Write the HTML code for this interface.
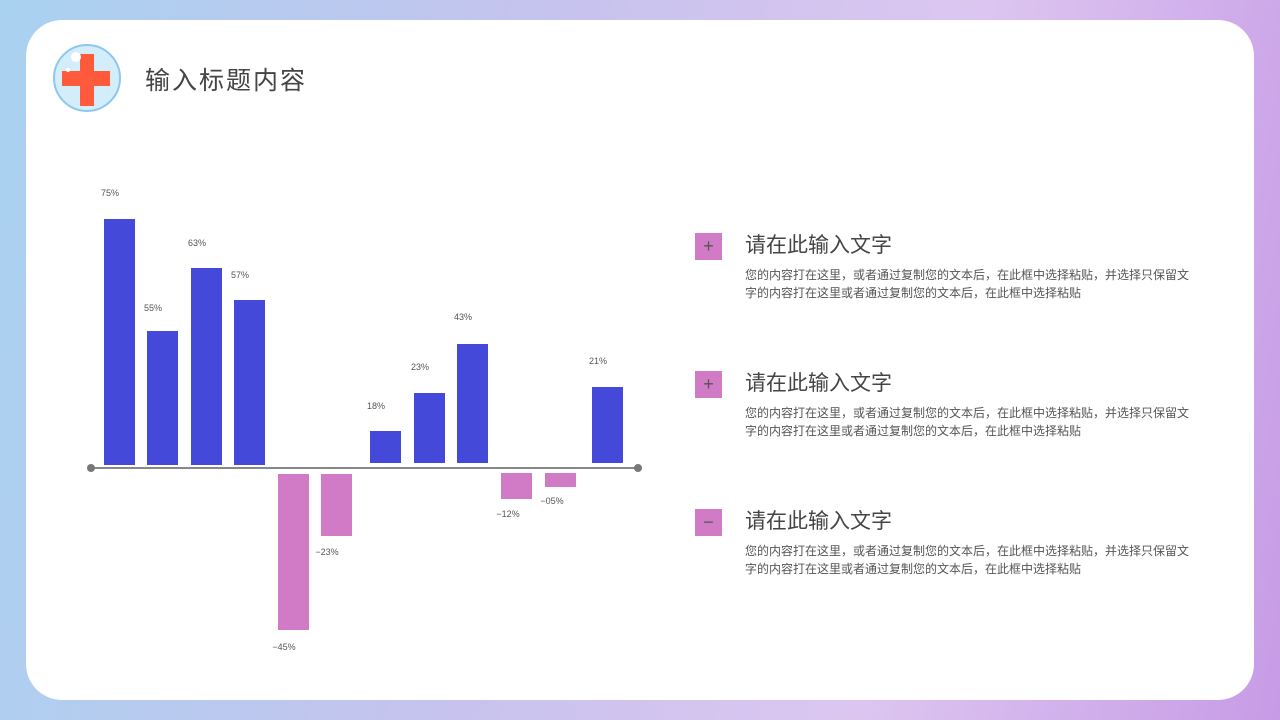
<!DOCTYPE html>
<html><head><meta charset="utf-8"><style>
body{margin:0;width:1280px;height:720px;overflow:hidden;font-family:"Liberation Sans","Noto Sans CJK SC",sans-serif;
background:linear-gradient(100deg,#a9d2f0 0%,#c6c3ee 40%,#dcc6f0 70%,#c79be6 100%);position:relative}
.card{position:absolute;left:26px;top:20px;width:1228px;height:680px;background:#fff;border-radius:36px}
.b{position:absolute;width:31px}
.bl{background:#4449d9}.pk{background:#d17ac6}
.l{position:absolute;font-size:9px;color:#555;width:40px;text-align:center}
.h{position:absolute;left:745px;font-size:21px;color:#444}
.p{position:absolute;left:745px;font-size:12px;color:#555;line-height:18px;width:452px}
.ic{position:absolute;left:695px;width:27px;height:27px;background:#d17ac6;color:#555;font-size:18px;text-align:center;line-height:27px}
</style></head><body>
<div class="card"></div>
<svg style="position:absolute;left:52px;top:42px" width="72" height="72">
<circle cx="35" cy="36" r="33" fill="#d3edfb" stroke="#8cc8ec" stroke-width="2"/>
<rect x="28" y="12" width="14" height="52" fill="#ff5a3c"/>
<rect x="10" y="29" width="48" height="15" fill="#ff5a3c"/>
<circle cx="24" cy="15" r="5" fill="#fff"/><circle cx="16" cy="28" r="2" fill="#fff"/>
</svg>
<div style="position:absolute;left:145px;top:61px;font-size:25px;color:#444;letter-spacing:2px">输入标题内容</div>

<div style="position:absolute;left:91px;top:467px;width:548px;height:2px;background:#888"></div>
<div style="position:absolute;left:87px;top:464px;width:8px;height:8px;border-radius:50%;background:#777"></div>
<div style="position:absolute;left:634px;top:464px;width:8px;height:8px;border-radius:50%;background:#777"></div>

<div class="b bl" style="left:104px;top:219px;height:246px"></div><div class="l" style="left:90px;top:188px">75%</div>
<div class="b bl" style="left:147px;top:331px;height:134px"></div><div class="l" style="left:133px;top:303px">55%</div>
<div class="b bl" style="left:191px;top:268px;height:197px"></div><div class="l" style="left:177px;top:238px">63%</div>
<div class="b bl" style="left:234px;top:300px;height:165px"></div><div class="l" style="left:220px;top:270px">57%</div>
<div class="b pk" style="left:278px;top:474px;height:156px"></div><div class="l" style="left:264px;top:642px">−45%</div>
<div class="b pk" style="left:321px;top:474px;height:62px"></div><div class="l" style="left:307px;top:547px">−23%</div>
<div class="b bl" style="left:370px;top:431px;height:32px"></div><div class="l" style="left:356px;top:401px">18%</div>
<div class="b bl" style="left:414px;top:393px;height:70px"></div><div class="l" style="left:400px;top:362px">23%</div>
<div class="b bl" style="left:457px;top:344px;height:119px"></div><div class="l" style="left:443px;top:312px">43%</div>
<div class="b pk" style="left:501px;top:473px;height:26px"></div><div class="l" style="left:488px;top:509px">−12%</div>
<div class="b pk" style="left:545px;top:473px;height:14px"></div><div class="l" style="left:532px;top:496px">−05%</div>
<div class="b bl" style="left:592px;top:387px;height:76px"></div><div class="l" style="left:578px;top:356px">21%</div>

<div class="ic" style="top:233px">+</div>
<div class="h" style="top:229px">请在此输入文字</div>
<div class="p" style="top:266px">您的内容打在这里，或者通过复制您的文本后，在此框中选择粘贴，并选择只保留文字的内容打在这里或者通过复制您的文本后，在此框中选择粘贴</div>
<div class="ic" style="top:371px">+</div>
<div class="h" style="top:367px">请在此输入文字</div>
<div class="p" style="top:404px">您的内容打在这里，或者通过复制您的文本后，在此框中选择粘贴，并选择只保留文字的内容打在这里或者通过复制您的文本后，在此框中选择粘贴</div>
<div class="ic" style="top:509px">−</div>
<div class="h" style="top:505px">请在此输入文字</div>
<div class="p" style="top:542px">您的内容打在这里，或者通过复制您的文本后，在此框中选择粘贴，并选择只保留文字的内容打在这里或者通过复制您的文本后，在此框中选择粘贴</div>
</body></html>
